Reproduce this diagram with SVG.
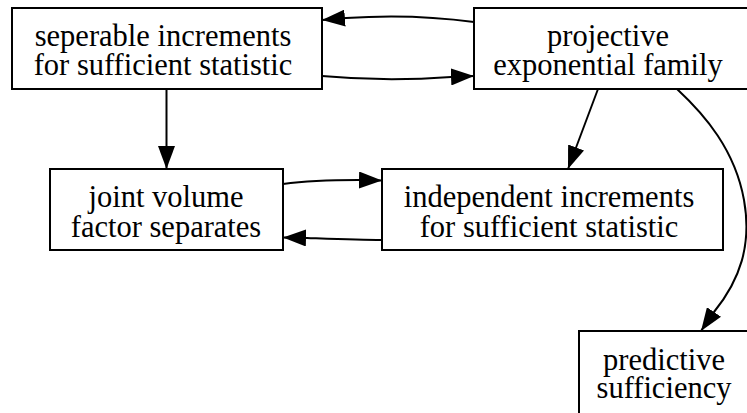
<svg xmlns="http://www.w3.org/2000/svg" width="747" height="413" viewBox="0 0 747 413">
<style>
.box{fill:#fff;stroke:#000;stroke-width:2}
.lbl{font-family:'Liberation Serif','DejaVu Serif',serif;font-size:30.5px;fill:#000;text-anchor:middle}
.edge{fill:none;stroke:#000;stroke-width:2}
</style>
<defs>
<marker id="ah" markerUnits="userSpaceOnUse" markerWidth="24" markerHeight="17" viewBox="0 0 24 17" refX="23" refY="8.5" orient="auto">
<path d="M0,0 L23,8.5 L0,17 z" fill="#000"/>
</marker>
</defs>
<rect width="747" height="413" fill="#fff"/>
<g id="edges">
<path class="edge" marker-end="url(#ah)" d="M474,22 C430,16 390,15 346,18 L322,20"/>
<path class="edge" marker-end="url(#ah)" d="M322,76 C365,80 410,80 451,77 L474,76"/>
<path class="edge" marker-end="url(#ah)" d="M166.5,89 L166.5,169"/>
<path class="edge" marker-end="url(#ah)" d="M283,184 C305,181 330,180 358,180 L382,180.5"/>
<path class="edge" marker-end="url(#ah)" d="M382,240 C360,240 335,239 307,238 L283,237.5"/>
<path class="edge" marker-end="url(#ah)" d="M598,89 L568,169"/>
<path class="edge" marker-end="url(#ah)" d="M677,89 C705,115 735,150 744,200 C752,245 740,280 714,312 L701,331"/>
</g>
<g id="n1">
<rect class="box" x="12" y="8" width="310" height="81"/>
<text class="lbl" x="163" y="46">seperable increments</text>
<text class="lbl" x="163" y="75">for sufficient statistic</text>
</g>
<g id="n2">
<rect class="box" x="474" y="8" width="290" height="81"/>
<text class="lbl" x="608" y="46">projective</text>
<text class="lbl" x="608" y="75">exponential family</text>
</g>
<g id="n3">
<rect class="box" x="50" y="169" width="233" height="81"/>
<text class="lbl" x="166" y="207">joint volume</text>
<text class="lbl" x="166" y="237">factor separates</text>
</g>
<g id="n4">
<rect class="box" x="382" y="169" width="341" height="81"/>
<text class="lbl" x="549" y="207">independent increments</text>
<text class="lbl" x="549" y="237">for sufficient statistic</text>
</g>
<g id="n5">
<rect class="box" x="579" y="331" width="200" height="90"/>
<text class="lbl" x="664" y="370">predictive</text>
<text class="lbl" x="664" y="398">sufficiency</text>
</g>
</svg>
